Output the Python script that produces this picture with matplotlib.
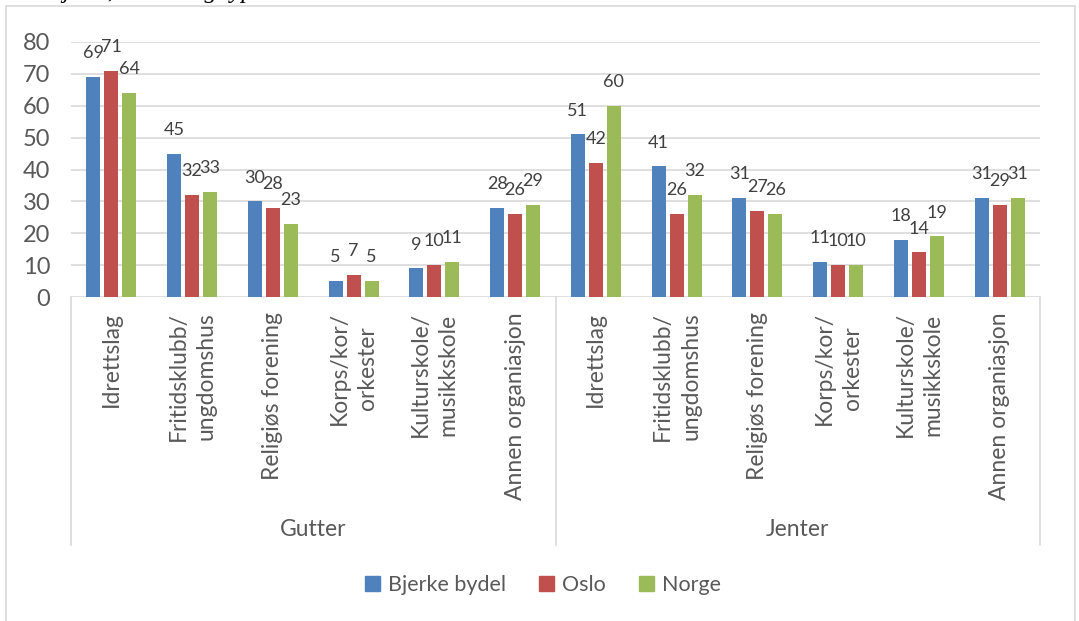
import matplotlib
matplotlib.use('Agg')
import matplotlib.pyplot as plt
import numpy as np
from matplotlib.patches import Rectangle

plt.rcParams['font.family'] = ['Lato', 'DejaVu Sans']

groups = ['Gutter', 'Jenter']
activities = ['Idrettslag', 'Fritidsklubb/\nungdomshus', 'Religiøs forening',
              'Korps/kor/\norkester', 'Kulturskole/\nmusikkskole', 'Annen organiasjon']
series_names = ['Bjerke bydel', 'Oslo', 'Norge']
# Gutter (6 values) followed by Jenter (6 values)
bjerke = [69, 45, 30, 5, 9, 28, 51, 41, 31, 11, 18, 31]
oslo = [71, 32, 28, 7, 10, 26, 42, 26, 27, 10, 14, 29]
norge = [64, 33, 23, 5, 11, 29, 60, 32, 26, 10, 19, 31]
yticks = [0, 10, 20, 30, 40, 50, 60, 70, 80]
caption = 'etter kjønn, bosted og type aktivitet. Prosent.'

colors = ['#4F81BD', '#C0504D', '#9BBB59']
text_color = '#595959'
grid_color = '#D9D9D9'

W, H = 1079, 621
fig = plt.figure(figsize=(W / 100, H / 100), dpi=100)
ax_h = 255
ax = fig.add_axes([71 / W, 1 - 297 / H, 969 / W, ax_h / H])

n_cat = len(groups) * len(activities)
x = np.arange(n_cat)
bar_w = 0.173
offsets = [-0.223, 0, 0.223]

for vals, off, col in zip([bjerke, oslo, norge], offsets, colors):
    bars = ax.bar(x + off, vals, width=bar_w, color=col, zorder=3)
    for b, v in zip(bars, vals):
        ax.annotate(str(v), (b.get_x() + b.get_width() / 2, b.get_height()),
                    xytext=(0, 13.5), textcoords='offset points',
                    ha='center', va='baseline', fontsize=13, color='#404040')

ax.set_xlim(-0.5, n_cat - 0.5)
ax.set_ylim(0, 80)
ax.set_yticks(yticks)
ax.set_xticks([])
ax.yaxis.grid(True, color=grid_color, lw=1.2, zorder=0)
ax.set_axisbelow(True)
for s in ax.spines.values():
    s.set_visible(False)
ax.tick_params(axis='y', length=0, pad=15, labelsize=17, labelcolor=text_color)

# category labels (two levels)
tr = ax.get_xaxis_transform()
for g, grp in enumerate(groups):
    for i, act in enumerate(activities):
        ax.text(g * len(activities) + i, -15 / ax_h, act, transform=tr,
                rotation=90, ha='center', va='top', multialignment='center',
                linespacing=1.4, fontsize=16.5, color=text_color)
    center = g * len(activities) + (len(activities) - 1) / 2
    ax.text(center, -(530 - 297) / ax_h, grp, transform=tr, ha='center',
            va='center', fontsize=16.5, color=text_color)

for xs in [-0.5, len(activities) - 0.5, n_cat - 0.5]:
    ax.plot([xs, xs], [0, -(545 - 297) / ax_h], transform=tr, color=grid_color,
            lw=1.2, clip_on=False)

handles = [Rectangle((0, 0), 1, 1, color=c) for c in colors]
fig.legend(handles, series_names, loc='center', bbox_to_anchor=(543 / W, 1 - 585 / H),
           ncol=3, frameon=False, fontsize=15.5, handlelength=0.7, handleheight=0.7,
           handletextpad=0.4, columnspacing=1.5, labelcolor=text_color)

# chart border
fig.add_artist(Rectangle((6 / W, -0.1), (1075 - 6) / W, 1 - 6 / H + 0.1,
                         transform=fig.transFigure, fill=False,
                         edgecolor=grid_color, lw=1.2))

# cut-off caption at the very top
fig.text(0, 1 + 2 / H, caption, family='Liberation Serif', style='italic',
         fontsize=18, va='baseline', color='black')

fig.savefig('out.png', dpi=100)
